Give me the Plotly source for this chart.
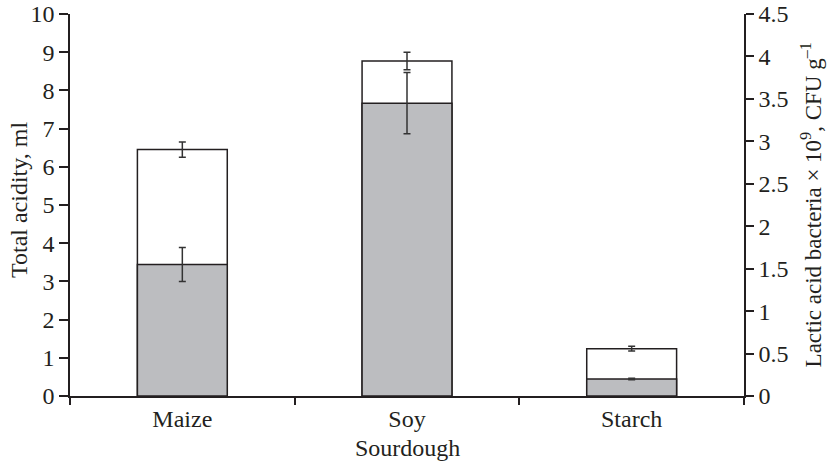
import plotly.graph_objects as go

categories = ["Maize", "Soy", "Starch"]
total_acidity = [6.45, 8.77, 1.24]
total_acidity_err = [0.2, 0.23, 0.06]
lab_counts = [1.55, 3.45, 0.2]
lab_err = [0.2, 0.36, 0.01]

left_ticks = list(range(0, 11))
right_ticks = [0, 0.5, 1, 1.5, 2, 2.5, 3, 3.5, 4, 4.5]
right_ticklabels = ["0", "0.5", "1", "1.5", "2", "2.5", "3", "3.5", "4", "4.5"]

FONT = "Liberation Serif"
INK = "#231f20"
FS = 24

fig = go.Figure()
fig.add_trace(go.Bar(
    x=categories, y=total_acidity, yaxis="y", width=0.4,
    marker=dict(color="white", line=dict(color=INK, width=1.5)),
    error_y=dict(type="data", array=total_acidity_err, color="#333333", thickness=1.5, width=3.5),
    showlegend=False,
))
fig.add_trace(go.Bar(
    x=categories, y=lab_counts, yaxis="y2", width=0.4,
    marker=dict(color="#bcbdc0", line=dict(color=INK, width=1.5)),
    error_y=dict(type="data", array=lab_err, color="#333333", thickness=1.5, width=3.5),
    showlegend=False,
))

fig.update_layout(
    width=828, height=462,
    margin=dict(l=70, r=84, t=14, b=66, autoexpand=False),
    paper_bgcolor="white", plot_bgcolor="white",
    barmode="overlay",
    font=dict(family=FONT, size=FS, color=INK),
    xaxis=dict(
        type="category", range=[-0.5, 2.5], tickson="boundaries", automargin=False,
        ticks="outside", ticklen=7, tickwidth=1.5, tickcolor=INK,
        showline=True, linecolor=INK, linewidth=1.5, showgrid=False, zeroline=False,
        tickfont=dict(family=FONT, size=FS, color=INK),
    ),
    yaxis=dict(
        range=[0, 10], tickvals=left_ticks, ticks="outside", ticklen=9, tickwidth=1.5,
        tickcolor=INK, showline=True, linecolor=INK, linewidth=1.5, automargin=False,
        showgrid=False, zeroline=False, ticklabelstandoff=0, ticklabeloverflow="allow",
        tickfont=dict(family=FONT, size=FS, color=INK),
    ),
    yaxis2=dict(
        range=[0, 4.5], tickvals=right_ticks, ticktext=right_ticklabels,
        overlaying="y", side="right", ticks="outside", ticklen=8, tickwidth=1.5,
        tickcolor=INK, showline=True, linecolor=INK, linewidth=1.5, automargin=False,
        showgrid=False, zeroline=False, ticklabelstandoff=0, ticklabeloverflow="allow",
        tickfont=dict(family=FONT, size=FS, color=INK),
    ),
    annotations=[
        dict(text="Total acidity, ml", xref="paper", yref="paper", x=-0.0757, y=0.513,
             xanchor="center", yanchor="middle", textangle=-90, showarrow=False,
             font=dict(family=FONT, size=FS, color=INK)),
        dict(text="Lactic acid bacteria × 10<sup>9</sup>, CFU g<sup>–1</sup>", xref="paper", yref="paper",
             x=1.100, y=0.5, xanchor="center", yanchor="middle", textangle=-90, showarrow=False,
             font=dict(family=FONT, size=23, color=INK)),
        dict(text="Sourdough", xref="paper", yref="paper", x=0.5, y=-0.136,
             xanchor="center", yanchor="middle", showarrow=False,
             font=dict(family=FONT, size=FS, color=INK)),
    ],
)

fig.write_html("out.html", config={"displayModeBar": False},
               post_script="document.body.style.margin='0px';")
